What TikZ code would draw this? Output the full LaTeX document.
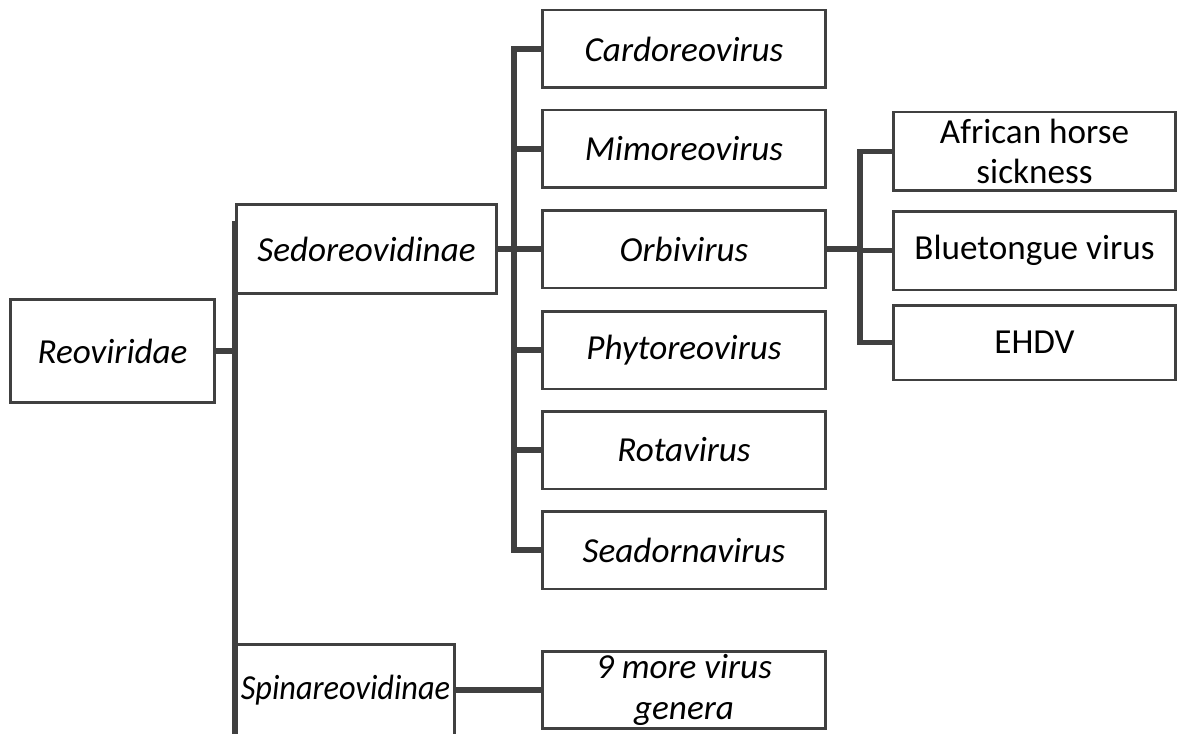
\documentclass[tikz,border=0pt]{standalone}
\usepackage{fontspec}
\setmainfont{Carlito}
\usetikzlibrary{positioning,calc}
\definecolor{treeLine}{HTML}{404040}

\begin{document}
\begin{tikzpicture}[x=0.02cm, y=-0.02cm,
  taxbox/.style={draw=treeLine, line width=1.7pt, fill=white, inner sep=0pt,
    align=center, text=black, font=\fontsize{20}{23}\selectfont},
  genusbox/.style={taxbox, minimum width=5.68cm, minimum height=1.56cm},
  branch/.style={draw=treeLine, line width=3.4pt}]

% --- CANVAS ---
\useasboundingbox (0,0) rectangle (1182,733);
\clip (0,0) rectangle (1182,733);

\def\xGenus{684}
\def\xSplit{514}
\def\xOrbSplit{860}

% --- FAMILY + SUBFAMILIES ---
\node[taxbox, minimum width=4.1cm, minimum height=2.08cm]
  (reo) at (112.5, 351) {\itshape Reoviridae};
\node[taxbox, minimum width=5.22cm, minimum height=1.8cm]
  (sedo) at (366.5, 249) {\itshape Sedoreovidinae};
\node[taxbox, minimum width=4.38cm, minimum height=1.84cm]
  (spina) at (345.5, 690) {\scalebox{0.92}[1]{\itshape Spinareovidinae}};

% --- GENERA ---
\foreach \name/\yv/\txt in {cardo/49/Cardoreovirus, mimo/149/Mimoreovirus,
    orbi/249/Orbivirus, phyto/350/Phytoreovirus, rota/450/Rotavirus,
    seadorna/550/Seadornavirus} {
  \node[genusbox] (\name) at (\xGenus, \yv) {\itshape\txt};
}
\node[genusbox, minimum height=1.54cm] (more) at (\xGenus, 690)
  {\itshape 9 more virus\\\itshape genera};

% --- ORBIVIRUS SPECIES ---
\node[genusbox, minimum width=5.66cm, minimum height=1.58cm]
  (ahs) at (1034.5, 151.5) {African horse\\sickness};
\node[genusbox, minimum width=5.66cm, minimum height=1.58cm]
  (blue) at (1034.5, 250.5) {Bluetongue virus};
\node[genusbox, minimum width=5.66cm, minimum height=1.5cm]
  (ehdv) at (1034.5, 342.5) {EHDV};

% --- CONNECTORS ---
\coordinate (famTop) at ($(sedo.north west)+(0,18)$);
\draw[branch] (famTop) -- (famTop |- spina.south);
\draw[branch] (reo.east) -- (reo.east -| sedo.west);

\coordinate (gSplit) at (\xSplit, 249);
\draw[branch] (sedo.east) -- (gSplit);
\draw[branch] (cardo.west) -| (gSplit) |- (seadorna.west);
\foreach \name in {mimo, orbi, phyto, rota} {
  \draw[branch] (gSplit |- \name.west) -- (\name.west);
}

\coordinate (oSplit) at (\xOrbSplit, 249);
\draw[branch] (orbi.east) -- (oSplit);
\draw[branch] (ahs.west) -| (oSplit) |- (ehdv.west);
\draw[branch] (oSplit |- blue.west) -- (blue.west);

\draw[branch] (spina.east) -- (more.west);

\end{tikzpicture}
\end{document}
